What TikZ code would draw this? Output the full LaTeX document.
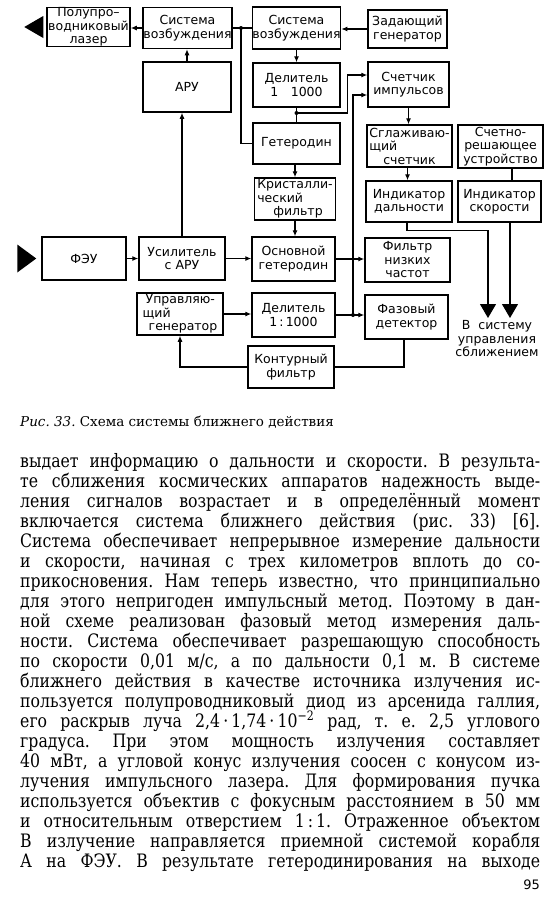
\documentclass[tikz,border=0pt]{standalone}
\usepackage{fontspec}
\setmainfont{DejaVu Serif}
\newfontfamily\bodyfont{DejaVu Serif}[FakeStretch=0.85]
\newfontfamily\schemefont{DejaVu Sans}
\usetikzlibrary{arrows.meta,positioning,calc}
\frenchspacing

\begin{document}
\begin{tikzpicture}[x=1pt,y=-1pt,every node/.style={inner sep=0pt},
  blk/.style={draw,line width=1.5pt,font=\schemefont\fontsize{12.5}{13.5}\selectfont,align=center},
  link/.style={line width=1.1pt},
  >={Latex[length=6pt,width=5pt]},
  bigtip/.style={-{Triangle[length=14pt,width=16pt]}}]
  \useasboundingbox (0,0) rectangle (551,900);
  % top row
  \node[blk,minimum width=83pt,minimum height=39pt] (laser) at (88.5,27) {Полупро–\\водниковый\\лазер};
  \node[blk,minimum width=89pt,minimum height=41pt] (sysL) at (187.5,28) {Система\\возбуждения};
  \node[blk,minimum width=87pt,minimum height=42pt] (sysR) at (296.5,28) {Система\\возбуждения};
  \node[blk,minimum width=79pt,minimum height=38pt] (zadgen) at (407.5,29) {Задающий\\генератор};
  % second row
  \node[blk,minimum width=88pt,minimum height=50pt] (aru) at (187,87) {АРУ};
  \node[blk,minimum width=87pt,minimum height=44pt] (del1) at (296.5,85) {Делитель\\1\quad 1000};
  \node[blk,minimum width=81pt,minimum height=45pt] (count) at (408.5,84.5) {Счетчик\\импульсов};
  % third row
  \node[blk,minimum width=87pt,minimum height=41pt] (het) at (296.5,143.5) {Гетеродин};
  \node[blk,minimum width=85pt,minimum height=42pt,align=left] (smooth) at (409.5,146) {Сглаживаю-\\щий\\\hspace*{14pt}счетчик};
  \node[blk,minimum width=85pt,minimum height=43pt] (calc) at (500.5,146.5) {Счетно-\\решающее\\устройство};
  % fourth row
  \node[blk,minimum width=81pt,minimum height=42pt,align=left] (cryst) at (295,199) {Кристалли-\\ческий\\\hspace*{16pt}фильтр};
  \node[blk,minimum width=86pt,minimum height=41pt] (indD) at (409,201.5) {Индикатор\\дальности};
  \node[blk,minimum width=83pt,minimum height=41pt] (indV) at (499.5,201.5) {Индикатор\\скорости};
  % receiver row
  \node[blk,minimum width=84pt,minimum height=43pt] (feu) at (84,258.5) {ФЭУ};
  \node[blk,minimum width=86pt,minimum height=43pt] (amp) at (182,258.5) {Усилитель\\с АРУ};
  \node[blk,minimum width=83pt,minimum height=44pt] (mainhet) at (293.5,259) {Основной\\гетеродин};
  \node[blk,minimum width=85pt,minimum height=44pt] (lpf) at (407.5,260) {Фильтр\\низких\\частот};
  % phase loop
  \node[blk,minimum width=86pt,minimum height=42pt,align=left] (ctrl) at (180,314) {\hspace*{3pt}Управляю-\\щий\\\hspace*{6pt}генератор};
  \node[blk,minimum width=83pt,minimum height=44pt] (del2) at (293.5,315) {Делитель\\1\,:\,1000};
  \node[blk,minimum width=83pt,minimum height=44pt] (phase) at (406.5,317) {Фазовый\\детектор};
  \node[blk,minimum width=86pt,minimum height=42pt] (loopf) at (291,367) {Контурный\\фильтр};
  \node[font=\schemefont\fontsize{12.5}{13.5}\selectfont,align=center] (dest) at (497,339) {В\ \ систему\\управления\\сближением};

  \coordinate (jA) at (241,28);
  \coordinate (jB) at (296.5,113);
  \coordinate (jC) at (353,315);
  \coordinate (outD) at (488,318);
  \coordinate (outV) at (510,318);

  % light in / out
  \fill (laser.west) ++(-3,-11) -- ++(0,22) -- ++(-19,-11) -- cycle;
  \fill ([xshift=-5pt]feu.west) -- ++(-19,-14) -- ++(0,28) -- cycle;

  % connectors
  \draw[link,->] (sysL.west) -- (sysL.west -| laser.east);
  \draw[link,->] (zadgen.west) -- (zadgen.west -| sysR.east);
  \draw[link,->] (sysR.south) -- (del1.north);
  \draw[link] (sysR.west) -- (sysL.east);
  \draw[link] (jA) |- (het.west);
  \draw[link,->] (aru.north) -- (aru.north |- sysL.south);
  \draw[link,->] (amp.north) -- (amp.north |- aru.south);
  \draw[link,->] (feu.east) -- (feu.east -| amp.west);
  \draw[link,->] (amp.east) -- (amp.east -| mainhet.west);
  \draw[link] (del1.south) -- (het.north);
  \draw[link,->] (jB) -- ++(51,0) |- ([yshift=9.5pt]count.west);
  \draw[link,->] (del2.east) -- (del2.east -| phase.west);
  \draw[link,->] (jC) |- ([yshift=-10.5pt]count.west);
  \draw[link,->] (cryst.north |- het.south) -- (cryst.north);
  \draw[link,->] (cryst.south) -- (cryst.south |- mainhet.north);
  \draw[link,->] (mainhet.east) -- (mainhet.east -| lpf.west);
  \draw[link,->] (count.south) -- (count.south |- smooth.north);
  \draw[link,->] ([xshift=-2pt]smooth.south) -- ([xshift=-2pt]smooth.south |- indD.north);
  \draw[link,bigtip] ([xshift=-2pt]indD.south) -- ++(0,8) -| (outD);
  \draw[link] ([xshift=11.5pt]calc.south) -- ([xshift=11.5pt]calc.south |- indV.north);
  \draw[link,bigtip] ([xshift=10.5pt]indV.south) -- (outV);
  \draw[link,->] (ctrl.east) -- (ctrl.east -| del2.west);
  \draw[link] ([xshift=-2.5pt]phase.south) |- (loopf.east);
  \draw[link,->] (loopf.west) -| (ctrl.south);
  \foreach \j in {jA,jB,jC} \fill (\j) circle (2pt);

  % caption and page text
  \node[anchor=base west,font=\fontsize{13.5}{15}\selectfont] (cap) at (20,426) {\textit{Рис. 33.} Схема системы ближнего действия};
  \foreach \ln [count=\i] in {
    {выдает информацию о дальности и скорости. В результа-},
    {те сближения космических аппаратов надежность выде-},
    {ления сигналов возрастает и в определённый момент},
    {включается система ближнего действия (рис. 33) [6].},
    {Система обеспечивает непрерывное измерение дальности},
    {и скорости, начиная с трех километров вплоть до со-},
    {прикосновения. Нам теперь известно, что принципиально},
    {для этого непригоден импульсный метод. Поэтому в дан-},
    {ной схеме реализован фазовый метод измерения даль-},
    {ности. Система обеспечивает разрешающую способность},
    {по скорости 0,01 м/с, а по дальности 0,1 м. В системе},
    {ближнего действия в качестве источника излучения ис-},
    {пользуется полупроводниковый диод из арсенида галлия,},
    {его раскрыв луча 2,4\,·\,1,74\,·\,10\textsuperscript{−2} рад, т. е. 2,5 углового},
    {градуса. При этом мощность излучения составляет},
    {40 мВт, а угловой конус излучения соосен с конусом из-},
    {лучения импульсного лазера. Для формирования пучка},
    {используется объектив с фокусным расстоянием в 50 мм},
    {и относительным отверстием 1\,:\,1. Отраженное объектом},
    {В излучение направляется приемной системой корабля},
    {А на ФЭУ. В результате гетеродинирования на выходе}}
    \node[anchor=base west,font=\bodyfont\fontsize{18.5}{20}\selectfont] (ln\i) at (20,447+20*\i) {\hbox to 520pt{\ln}};
  \node[anchor=base east,font=\schemefont\fontsize{13}{15}\selectfont] (pageno) at (540,889) {95};
\end{tikzpicture}
\end{document}
